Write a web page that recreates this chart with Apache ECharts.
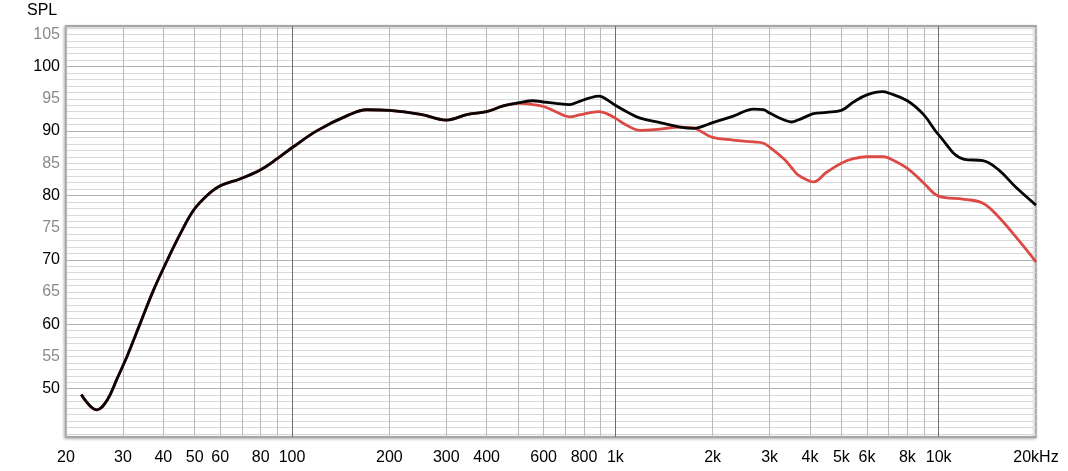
<!DOCTYPE html>
<html>
<head>
<meta charset="utf-8">
<script src="https://cdn.jsdelivr.net/npm/echarts@6/dist/echarts.min.js"></script>
<style>
html,body{margin:0;padding:0;background:#fff;}
#chart{width:1068px;height:471px;}
</style>
</head>
<body>
<div id="chart"></div>
<script>
// Frequencies (Hz) shared by both curves
const freqs = [22.3, 24.9, 26.8, 28.8, 31.0, 33.9, 37.3, 41.1, 45.2, 49.6, 54.6, 60, 69.3, 80, 90, 100, 120, 150, 170, 200, 250, 300, 350, 400, 450, 505, 556, 600, 655, 721, 775, 830, 890, 940, 1000, 1084, 1193, 1376, 1586, 1750, 1830, 2000, 2316, 2680, 2870, 3000, 3330, 3510, 3670, 4000, 4100, 4500, 5000, 5450, 6000, 6700, 7000, 8000, 9000, 10000, 12000, 13700, 15300, 17300, 20000];
// Black curve (SPL, dB)
const splBlack = [49.1, 46.7, 48.2, 51.6, 55.2, 60.1, 65.3, 69.9, 74.1, 77.7, 80.0, 81.5, 82.6, 84.0, 85.7, 87.4, 90.1, 92.5, 93.3, 93.2, 92.6, 91.7, 92.6, 93.0, 93.9, 94.4, 94.7, 94.5, 94.3, 94.1, 94.6, 95.1, 95.4, 94.9, 94.0, 93.0, 92.0, 91.3, 90.6, 90.4, 90.6, 91.3, 92.3, 93.4, 93.3, 92.8, 91.7, 91.4, 91.7, 92.5, 92.7, 92.9, 93.2, 94.5, 95.6, 96.1, 95.9, 94.7, 92.5, 89.4, 85.6, 85.4, 84.0, 81.3, 78.5];
// Red curve (SPL, dB)
const splRed = [49.1, 46.7, 48.2, 51.6, 55.2, 60.1, 65.3, 69.9, 74.1, 77.7, 80.0, 81.5, 82.6, 84.0, 85.7, 87.4, 90.1, 92.5, 93.3, 93.2, 92.6, 91.7, 92.6, 93.0, 93.9, 94.3, 94.1, 93.8, 93.0, 92.2, 92.5, 92.8, 93.0, 92.7, 92.0, 90.9, 90.1, 90.3, 90.6, 90.5, 90.0, 89.0, 88.6, 88.3, 88.1, 87.5, 85.6, 84.3, 83.2, 82.2, 82.1, 83.6, 85.0, 85.7, 86.0, 86.0, 85.8, 84.2, 81.9, 79.9, 79.4, 78.8, 76.7, 73.6, 69.7];
// Tick labels
const xLabelFreqs = [20, 30, 40, 50, 60, 80, 100, 200, 300, 400, 600, 800, 1000, 2000, 3000, 4000, 5000, 6000, 8000, 10000, 20000];
const xLabelTexts = ['20', '30', '40', '50', '60', '80', '100', '200', '300', '400', '600', '800', '1k', '2k', '3k', '4k', '5k', '6k', '8k', '10k', '20kHz'];
const xGridFreqs = [20,30,40,50,60,70,80,90,100,200,300,400,500,600,700,800,900,1000,2000,3000,4000,5000,6000,7000,8000,9000,10000,20000];
const xDecadeFreqs = [100, 1000, 10000];
const yLabels = [50, 55, 60, 65, 70, 75, 80, 85, 90, 95, 100, 105];
const yMinorLines = [43,44,45,46,47,48,49,50,51,52,53,54,55,56,57,58,59,60,61,62,63,64,65,66,67,68,69,70,71,72,73,74,75,76,77,78,79,80,81,82,83,84,85,86,87,88,89,90,91,92,93,94,95,96,97,98,99,100,101,102,103,104,105,106];
const yMajorLines = [50, 60, 70, 80, 90, 100];

const L = Math.log10;
const xmin = L(20), xmax = L(20000);
const ymin = 42.5, ymax = 106.3;
const fontFam = '"Liberation Sans", Arial, sans-serif';

function toData(vals){ return freqs.map((f,i)=>[L(f), vals[i]]); }
function labelFor(v){
  let best = 0, bd = 1e9;
  xLabelFreqs.forEach((f,i)=>{ const d = Math.abs(L(f)-v); if(d<bd){bd=d;best=i;} });
  return xLabelTexts[best];
}

const chart = echarts.init(document.getElementById('chart'), null, {renderer:'canvas'});
chart.setOption({
  animation:false,
  backgroundColor:'#ffffff',
  grid:{left:66, right:32, top:26, bottom:34, show:true, borderColor:'#a6a6a6', borderWidth:2, backgroundColor:'#ffffff',
        shadowColor:'rgba(0,0,0,0.25)', shadowBlur:3, shadowOffsetX:-1, shadowOffsetY:1},
  graphic:[{type:'text', left:27, top:3, style:{text:'SPL', fontSize:16, fontFamily:fontFam, fill:'#000'}}],
  xAxis:[
    {type:'value', min:xmin, max:xmax, position:'bottom',
     axisLine:{show:false},
     axisTick:{show:false, customValues:xGridFreqs.map(L)},
     splitLine:{show:true, lineStyle:{color:'#b9b9b9', width:1}},
     axisLabel:{show:true, customValues:xLabelFreqs.map(L), formatter:(v)=>labelFor(v), color:'#000', fontSize:16, fontFamily:fontFam, margin:13, hideOverlap:false, showMinLabel:true, showMaxLabel:true}
    },
    {type:'value', min:xmin, max:xmax, position:'bottom',
     axisLine:{show:false},
     axisTick:{show:false, customValues:xDecadeFreqs.map(L)},
     splitLine:{show:true, lineStyle:{color:'#6e6e6e', width:1}},
     axisLabel:{show:false}
    }
  ],
  yAxis:[
    {type:'value', min:ymin, max:ymax,
     axisLine:{show:false},
     axisTick:{show:false, customValues:yMinorLines},
     splitLine:{show:true, lineStyle:{color:'#d9d9d9', width:1}},
     axisLabel:{show:true, customValues:yLabels, fontSize:16, fontFamily:fontFam, margin:6,
                color:(v)=> (Math.round(v)%10===0 ? '#000000' : '#8a8a8a')}
    },
    {type:'value', min:ymin, max:ymax,
     axisLine:{show:false},
     axisTick:{show:false, customValues:yMajorLines},
     splitLine:{show:true, lineStyle:{color:'#b0b0b0', width:1}},
     axisLabel:{show:false}
    }
  ],
  series:[
    {type:'line', name:'red', data:toData(splRed), xAxisIndex:0, yAxisIndex:0, smooth:0.4, symbol:'none',
     lineStyle:{color:'#dc4a46', width:2.8}, z:3},
    {type:'line', name:'black', data:toData(splBlack), xAxisIndex:0, yAxisIndex:0, smooth:0.4, symbol:'none',
     lineStyle:{color:'#0a0505', width:2.8}, z:4}
  ]
});
</script>
</body>
</html>
